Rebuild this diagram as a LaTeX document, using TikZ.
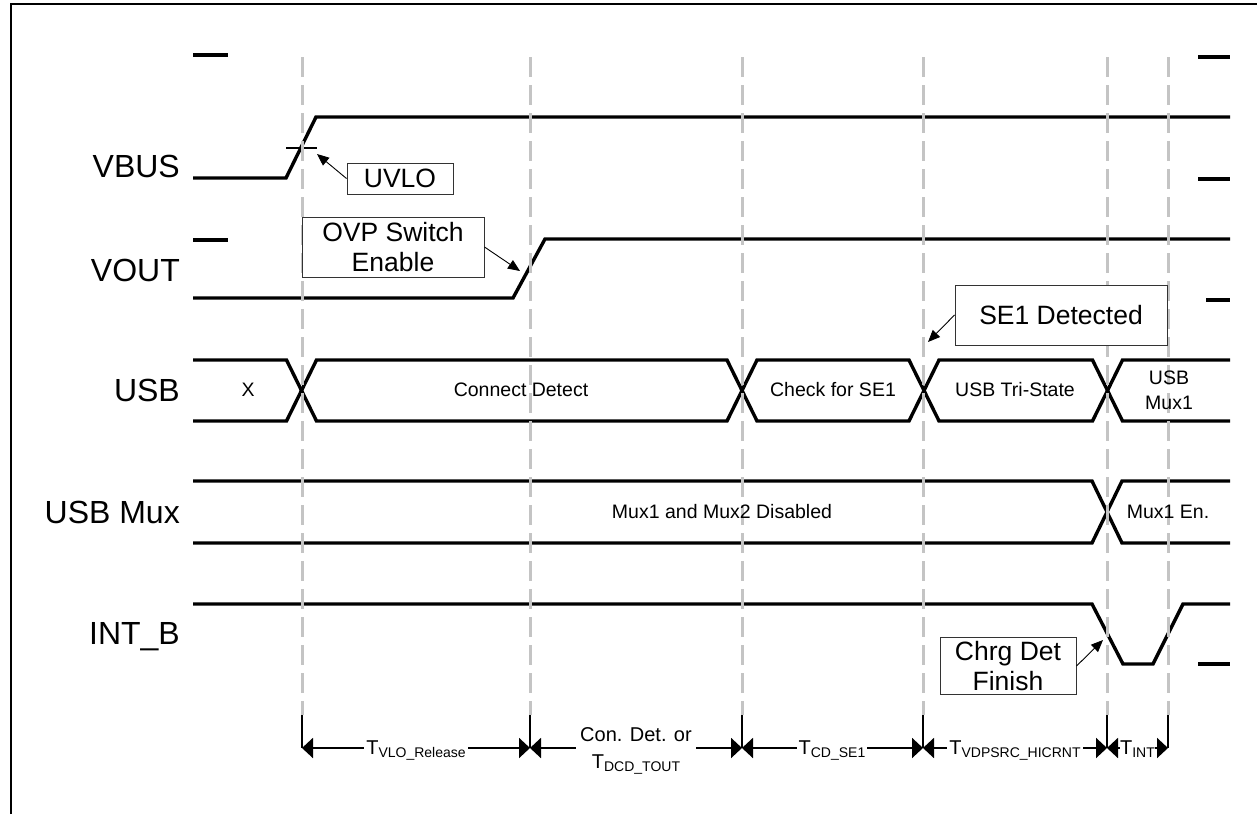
\documentclass[tikz,border=0pt]{standalone}
\usepackage{fontspec}
\setmainfont{Liberation Sans}
\usetikzlibrary{arrows.meta}
\definecolor{guide}{HTML}{C4C4C4}
\newcommand\tsubscr[1]{\raisebox{-3pt}{\fontsize{14}{16}\selectfont #1}}
\begin{document}
\begin{tikzpicture}[x=1pt,y=-1pt,
  sig/.style={line width=3.4pt,line join=miter},
  leveltick/.style={line width=3.4pt},
  guideline/.style={draw=guide,line width=3pt,dash pattern=on 20pt off 8pt},
  marker/.style={line width=2pt},
  tline/.style={line width=2pt,{Triangle[length=11pt,width=20pt]}-{Triangle[length=11pt,width=20pt]}},
  callout/.style={line width=0.9pt,-{Triangle[length=12pt,width=10pt]}},
  cbox/.style={draw=black!80,line width=1pt,fill=white,inner sep=0pt,align=center,font=\fontsize{26.5}{30}\selectfont},
  siglabel/.style={anchor=base east,inner sep=0pt,font=\fontsize{32}{36}\selectfont},
  bustext/.style={inner sep=0pt,align=center,font=\fontsize{19.5}{25}\selectfont},
  tlabel/.style={fill=white,inner xsep=2pt,inner ysep=1pt,anchor=base,align=center,font=\fontsize{20}{27}\selectfont},
]
\useasboundingbox (0,0) rectangle (1257,814);
% frame
\draw[line width=2.5pt] (11,814) -- (11,4) -- (1257,4);

% signal names
\node[siglabel] (nvbus) at (180,177.5) {VBUS};
\node[siglabel] (nvout) at (180,281.5) {VOUT};
\node[siglabel] (nusb) at (180,401.5) {USB};
\node[siglabel] (nmux) at (180,523.5) {USB Mux};
\node[siglabel] (nint) at (180,644.5) {INT\_B};

% level ticks
\draw[leveltick] (193,55) -- (228,55);
\draw[leveltick] (193,240) -- (228,240);
\draw[leveltick] (1198,57) -- (1230,57);
\draw[leveltick] (1198,179) -- (1230,179);
\draw[leveltick] (1206,300) -- (1230,300);
\draw[leveltick] (1198,664) -- (1230,664);

% VBUS
\draw[sig] (193,178) -- (286,178) -- (316,117) -- (1230,117);
\draw[line width=1.2pt] (286,148) -- (317,148);
% VOUT
\draw[sig] (193,298) -- (513,298) -- (545,239) -- (1230,239);
% USB bus
\draw[sig] (193,360) -- (286.5,360) -- (316.5,421) -- (727,421) -- (757,360) -- (909,360) -- (939,421) -- (1092.5,421) -- (1122.5,360) -- (1230,360);
\draw[sig] (193,421) -- (286.5,421) -- (316.5,360) -- (727,360) -- (757,421) -- (909,421) -- (939,360) -- (1092.5,360) -- (1122.5,421) -- (1230,421);
% USB Mux bus
\draw[sig] (193,481) -- (1092,481) -- (1122,543) -- (1230,543);
\draw[sig] (193,543) -- (1092,543) -- (1122,481) -- (1230,481);
% INT_B
\draw[sig] (193,604) -- (1092,604) -- (1123,664) -- (1153,664) -- (1183,604) -- (1230,604);

% guide coordinates and dashed guides
\foreach \x [count=\i] in {302,530,742,923,1107,1168} {
  \coordinate (gt\i) at (\x,57);
  \coordinate (gm\i) at (\x,715);
  \coordinate (gb\i) at (\x,748);
}
\foreach \i in {1,...,6} \draw[guideline] (gt\i) -- (gm\i);

% bus texts
\node[bustext] (tx) at (248,390) {X};
\node[bustext] (tcd) at (521,390) {Connect Detect};
\node[bustext] (tse) at (833,390) {Check for SE1};
\node[bustext] (ttri) at (1015,390) {USB Tri-State};
\node[bustext] (tm1) at (1169,390.5) {USB\\Mux1};
\node[bustext] (tdis) at (722,512) {Mux1 and Mux2 Disabled};
\node[bustext] (ten) at (1168,512) {Mux1 En.};

% callouts
\node[cbox,minimum width=106pt,minimum height=31pt] (uvlo) at (400,178.5) {UVLO};
\coordinate (uvlotip) at (317,154);
\draw[callout] (uvlo.west) -- (uvlotip);
\node[cbox,minimum width=182pt,minimum height=60pt] (ovp) at (393,247) {OVP Switch\\Enable};
\coordinate (ovptip) at (520,271);
\draw[callout] (ovp.east) -- (ovptip);
\node[cbox,minimum width=212pt,minimum height=60pt] (se1) at (1061,315) {SE1 Detected};
\coordinate (se1tip) at (928,342);
\draw[callout] (se1.west) -- (se1tip);
\node[cbox,minimum width=136pt,minimum height=57pt] (chrg) at (1008,666) {Chrg Det\\Finish};
\coordinate (chrgtip) at (1103,640);
\draw[callout] (chrg.east) -- (chrgtip);

% timing markers
\foreach \i in {1,...,6} \draw[marker] (gm\i) -- (gb\i);
\draw[tline] (gb1) -- (gb2);
\draw[tline] (gb2) -- (gb3);
\draw[tline] (gb3) -- (gb4);
\draw[tline] (gb4) -- (gb5);
\draw[tline] (gb5) -- (gb6);
\node[tlabel] (l1) at (416,754) {T\tsubscr{VLO\_Release}};
\node[tlabel,anchor=north,inner ysep=0pt,inner xsep=4pt] (l2) at (636,727) {Con. Det. or\\T\tsubscr{DCD\_TOUT}};
\node[tlabel] (l3) at (832,754) {T\tsubscr{CD\_SE1}};
\node[tlabel] (l4) at (1015,754) {T\tsubscr{VDPSRC\_HICRNT}};
\node[tlabel,inner xsep=0.5pt] (l5) at (1137.5,754) {T\tsubscr{INT}};
\end{tikzpicture}
\end{document}
